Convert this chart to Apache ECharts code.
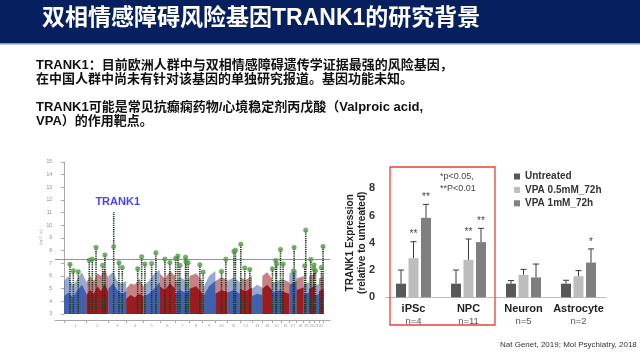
<!DOCTYPE html>
<html><head><meta charset="utf-8">
<script src="https://cdn.jsdelivr.net/npm/echarts@6/dist/echarts.min.js"></script>
<style>html,body{margin:0;padding:0;background:#fff}#c{width:640px;height:362px}</style>
</head><body><div id="c"></div>
<script>
// ---------- text ----------
const titleText = '双相情感障碍风险基因TRANK1的研究背景';
const bodyLines = [
  'TRANK1：目前欧洲人群中与双相情感障碍遗传学证据最强的风险基因，',
  '在中国人群中尚未有针对该基因的单独研究报道。基因功能未知。',
  'TRANK1可能是常见抗癫痫药物/心境稳定剂丙戊酸（Valproic acid,',
  'VPA）的作用靶点。'
];
const citation = 'Nat Genet, 2019; Mol Psychiatry, 2018';

// ---------- Manhattan plot data ----------
const chrLen = [249,243,198,191,181,171,159,146,141,136,135,134,115,107,103,90,81,78,59,63,48,51];
const denseTop = [
  [4.4,4.7,4.3,4.9,5.3,4.6],[4.5,4.9,4.6,5.2,4.8,5.4,4.7],[5.0,5.4,4.9,4.6,4.8],[4.2,4.5,4.3,4.6,4.4],
  [4.4,4.6,5.0,5.5],[5.2,4.9,5.4,5.0],[4.6,4.9,4.7,4.8],[5.0,5.2,4.6],[4.3,5.2,5.6],[4.6,4.9,4.7],
  [4.7,4.9,4.6],[5.0,4.8,5.1],[4.4,4.6,4.5],[5.0,5.3,4.9],[4.7,4.9],[4.8,4.6],[5.3,5.6],[4.9,5.1],
  [4.5,4.7],[5.0,5.2],[4.4,4.6],[4.8,5.0]
];
const sparseTop = [
  [5.6,6.0,5.2,5.8,6.3,5.5],[5.5,6.0,5.6,6.2,6.0,6.6,5.8],[6.0,6.3,5.6,5.4,5.6],[5.0,5.4,5.3,5.8,5.2],
  [5.2,5.6,6.2,6.5],[6.2,5.8,6.4,6.0],[5.6,5.9,5.7,5.8],[6.0,6.2,5.6],[5.0,6.0,6.4],[5.6,5.9,5.7],
  [5.6,5.9,5.5],[5.9,5.7,6.0],[5.0,5.3,5.1],[6.0,6.3,5.8],[5.5,5.7],[5.8,5.5],[6.2,6.5],[5.8,6.0],
  [5.3,5.5],[6.0,6.2],[5.2,5.4],[5.8,6.0]
];
const peakPos = [66,103,158,280,314,355,429,454,551,609,646,817,861,897,972,1019,1119,1174,1238,1263,1285,1348,1352,1377,1507,1543,1747,1795,1884,1902,1961,2005,2061,2312,2349,2357,2401,2430,2552,2545,2681,2670,2737,2773,2770,2789,2855,2873];
const peakVal = [6.92,6.41,6.33,7.25,7.33,8.25,6.84,7.65,8.31,7.04,6.67,6.57,7.51,6.94,6.99,7.83,7.33,7.07,7.39,7.57,6.84,7.49,7.12,7.04,6.88,6.31,6.36,7.33,7.94,8.04,8.51,6.64,6.52,6.57,7.23,6.94,8.09,6.94,8.25,6.39,9.62,6.80,7.31,6.86,6.54,6.41,6.67,8.33];
const colTop  = [6.92,6.41,6.33,7.25,7.33,8.25,6.84,7.65,11.05,7.04,6.67,6.57,7.51,6.94,6.99,7.83,7.33,7.07,7.39,7.57,6.84,7.49,7.12,7.04,6.88,6.31,6.36,7.33,7.94,8.04,8.51,6.64,6.52,6.57,7.23,6.94,8.09,6.94,8.25,6.39,9.62,6.80,7.31,6.86,6.54,6.41,6.67,8.33];
const gwThreshold = 7.3;
const trankIndex = 8;
const trankLabel = 'TRANK1';

// ---------- Bar chart data ----------
const cellTypes = ['iPSc','NPC','Neuron','Astrocyte'];
const cellN = ['n=4','n=11','n=5','n=2'];
const seriesNames = ['Untreated','VPA 0.5mM_72h','VPA 1mM_72h'];
const untreated = [1.0,1.0,1.0,1.0];
const vpa05 = [2.87,2.75,1.65,1.55];
const vpa1 = [5.83,4.05,1.46,2.55];
const untreatedErr = [2.0,2.0,1.23,1.25];
const vpa05Err = [4.08,4.28,2.05,1.96];
const vpa1Err = [6.82,5.06,2.44,3.55];
const vpa05Sig = ['**','**','',''];
const vpa1Sig = ['**','**','','*'];
const sigNote = '*p<0.05,\n**P<0.01';

// ---------- build ----------
const starts = [];
let acc = 0;
chrLen.forEach(l => { starts.push(acc); acc += l; });
const blue = '#4160ad', red = '#9a1c20';
const cloudSeries = [];
chrLen.forEach((len, ci) => {
  const color = ci % 2 === 0 ? blue : red;
  [[sparseTop[ci], 0.55], [denseTop[ci], 1]].forEach(([vals, op]) => {
    const n = vals.length;
    const data = vals.map((v, i) => [starts[ci] + len * (n === 1 ? 0.5 : i / (n - 1)), v]);
    cloudSeries.push({
      type: 'line', xAxisIndex: 0, yAxisIndex: 0, data, symbol: 'none', silent: true,
      lineStyle: { width: 0 }, areaStyle: { color, opacity: op, origin: 'start' }, z: 2
    });
  });
});
const tickVals = starts.concat([acc]);
const labelVals = starts.map((s, i) => s + chrLen[i] / 2);

const errData = [];
[untreatedErr, vpa05Err, vpa1Err].forEach((arr, si) => {
  const means = [untreated, vpa05, vpa1][si];
  const sig = [['','','',''], vpa05Sig, vpa1Sig][si];
  arr.forEach((u, ci) => errData.push([ci, si, means[ci], u, sig[ci]]));
});

const FONT = '"Liberation Sans", Arial, "Noto Sans CJK SC", sans-serif';
const chart = echarts.init(document.getElementById('c'));
const option = {
  animation: false,
  textStyle: { fontFamily: FONT },
  grid: [
    { left: 55, top: 162, width: 275, height: 152 },
    { left: 386, top: 188.3, width: 220, height: 109 }
  ],
  xAxis: [
    { type: 'value', gridIndex: 0, min: -100, max: 2950, offset: 6,
      axisLine: { show: true, lineStyle: { color: '#aaa', width: 1 } },
      axisTick: { show: true, customValues: tickVals, length: 3, lineStyle: { color: '#aaa' } },
      axisLabel: { show: true, customValues: labelVals, fontSize: 4, color: '#999', margin: 4,
        formatter: v => String(labelVals.indexOf(v) + 1) },
      splitLine: { show: false } },
    { type: 'category', gridIndex: 1, data: cellTypes,
      axisLine: { show: true, lineStyle: { color: '#bbb', width: 1 } },
      axisTick: { show: false },
      axisLabel: { margin: 5, interval: 0,
        formatter: (v, i) => '{a|' + v + '}\n{b|' + cellN[i] + '}',
        rich: { a: { fontSize: 11, fontWeight: 'bold', color: '#222', lineHeight: 13, fontFamily: FONT },
                b: { fontSize: 9.5, color: '#555', lineHeight: 13, fontFamily: FONT } } } }
  ],
  yAxis: [
    { type: 'value', gridIndex: 0, min: 3, max: 15, interval: 1,
      axisLine: { show: true, lineStyle: { color: '#aaa' } },
      axisTick: { show: true, length: 3, lineStyle: { color: '#aaa' } },
      axisLabel: { fontSize: 5, color: '#888', margin: 3 },
      splitLine: { show: false },
      name: '-log10 (p)', nameLocation: 'middle', nameRotate: 90, nameGap: 10,
      nameTextStyle: { fontSize: 4, color: '#aaa' } },
    { type: 'value', gridIndex: 1, min: 0, max: 8, interval: 2,
      axisLine: { show: false }, axisTick: { show: false },
      axisLabel: { fontSize: 11, fontWeight: 'bold', color: '#333', margin: 11 },
      splitLine: { show: false },
      name: 'TRANK1 Expression\n(relative to untreated)', nameLocation: 'middle', nameRotate: 90, nameGap: 18,
      nameMoveOverlap: false,
      nameTextStyle: { fontSize: 10, fontWeight: 'bold', color: '#222', lineHeight: 12 } }
  ],
  legend: {
    data: seriesNames, orient: 'vertical', left: 509, top: 165.5, itemWidth: 6, itemHeight: 6, itemGap: 1.4,
    icon: 'rect', textStyle: { fontSize: 10, fontWeight: 'bold', color: '#333', lineHeight: 12 }
  },
  series: cloudSeries.concat([
    { type: 'custom', xAxisIndex: 0, yAxisIndex: 0, z: 4, silent: true,
      data: peakPos.map((p, i) => [p, colTop[i]]),
      renderItem: (params, api) => {
        const a = api.coord([api.value(0), 3]);
        const b = api.coord([api.value(0), api.value(1)]);
        return { type: 'line', shape: { x1: a[0], y1: a[1], x2: b[0], y2: b[1] },
          style: { stroke: '#1a3a1e', lineWidth: 1.6, lineDash: [1.3, 0.9] } };
      } },
    { type: 'scatter', xAxisIndex: 0, yAxisIndex: 0, z: 5, symbol: 'circle', symbolSize: 4.5,
      itemStyle: { color: '#55a346', borderColor: '#3c7a31', borderWidth: 0.5 },
      data: peakPos.map((p, i) => [p, peakVal[i]]),
      markLine: { silent: true, symbol: 'none', label: { show: false },
        lineStyle: { color: '#c77b7b', width: 1, type: 'solid' }, data: [{ yAxis: gwThreshold }] } },
    { type: 'scatter', xAxisIndex: 0, yAxisIndex: 0, z: 6, symbolSize: 0,
      data: [[peakPos[trankIndex], colTop[trankIndex]]],
      label: { show: true, formatter: trankLabel, position: 'top', distance: 5, offset: [4, 0],
        color: '#1414f0', fontSize: 11, fontWeight: 'bold', fontFamily: FONT } },
    { name: seriesNames[0], type: 'bar', xAxisIndex: 1, yAxisIndex: 1, data: untreated, barWidth: 10, barGap: '25%', itemStyle: { color: '#585858' } },
    { name: seriesNames[1], type: 'bar', xAxisIndex: 1, yAxisIndex: 1, data: vpa05, barWidth: 10, barGap: '25%', itemStyle: { color: '#bdbdbd' } },
    { name: seriesNames[2], type: 'bar', xAxisIndex: 1, yAxisIndex: 1, data: vpa1, barWidth: 10, barGap: '25%', itemStyle: { color: '#7f7f7f' } },
    { type: 'custom', xAxisIndex: 1, yAxisIndex: 1, z: 10, silent: true, data: errData,
      renderItem: (params, api) => {
        const ci = api.value(0), si = api.value(1);
        const off = (si - 1) * 12.5;
        const m = api.coord([ci, api.value(2)]);
        const u = api.coord([ci, api.value(3)]);
        const x = m[0] + off;
        const children = [
          { type: 'line', shape: { x1: x, y1: m[1], x2: x, y2: u[1] }, style: { stroke: '#3a3a3a', lineWidth: 1 } },
          { type: 'line', shape: { x1: x - 3, y1: u[1], x2: x + 3, y2: u[1] }, style: { stroke: '#3a3a3a', lineWidth: 1 } }
        ];
        const s = errData[params.dataIndex][4];
        if (s) children.push({ type: 'text', style: { text: s, x: x, y: u[1] - 2, align: 'center', verticalAlign: 'bottom',
          font: '10px ' + FONT, fill: '#444' } });
        return { type: 'group', children };
      } }
  ]),
  graphic: [
    { type: 'rect', shape: { x: 0, y: 0, width: 640, height: 43 }, style: { fill: '#061f5e' }, z: 100 },
    { type: 'rect', shape: { x: 0, y: 43, width: 640, height: 1.5 }, style: { fill: '#8a98c0' }, z: 100 },
    { type: 'text', z: 101, style: { text: titleText, x: 42, y: 19, verticalAlign: 'middle',
      font: 'bold 23px ' + FONT, fill: '#ffffff' } },
    { type: 'text', z: 101, style: { text: bodyLines[0] + '\n' + bodyLines[1], x: 36, y: 58.5, lineHeight: 14,
      font: 'bold 13px ' + FONT, fill: '#111' } },
    { type: 'text', z: 101, style: { text: bodyLines[2] + '\n' + bodyLines[3], x: 36, y: 101, lineHeight: 13.5,
      font: 'bold 13px ' + FONT, fill: '#111' } },
    { type: 'rect', z: 101, shape: { x: 390, y: 167, width: 105, height: 158 },
      style: { fill: 'none', stroke: '#e3423a', lineWidth: 1.3 } },
    { type: 'text', z: 101, style: { text: sigNote, x: 440, y: 170, lineHeight: 12.5,
      font: '9px ' + FONT, fill: '#444' } },
    { type: 'text', z: 101, style: { text: citation, x: 500, y: 345, verticalAlign: 'middle',
      font: '8px ' + FONT, fill: '#333' } }
  ]
};
chart.setOption(option);
</script>
</body></html>
